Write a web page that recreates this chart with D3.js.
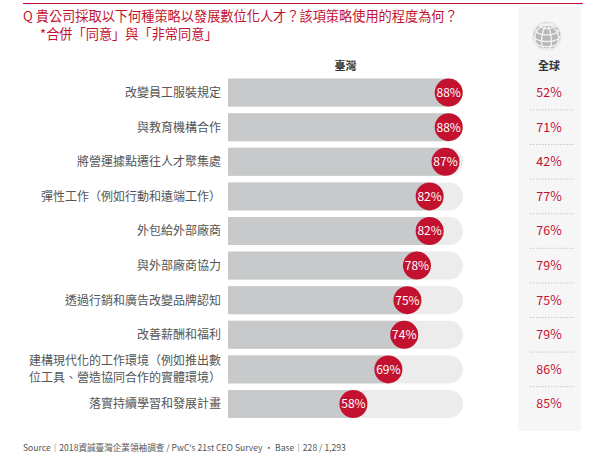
<!DOCTYPE html>
<html>
<head>
<meta charset="utf-8">
<script src="https://cdn.jsdelivr.net/npm/d3@7"></script>
<style>
  body { margin: 0; background: #fff; }
  svg { display: block; font-family: "Noto Sans CJK TC", "Noto Sans", sans-serif; }
</style>
</head>
<body>
<div id="chart"></div>
<script>
// strategy labels (one entry per row; "\n" breaks a label onto two lines)
const categories = [
  "改變員工服裝規定",
  "與教育機構合作",
  "將營運據點遷往人才聚集處",
  "彈性工作（例如行動和遠端工作）",
  "外包給外部廠商",
  "與外部廠商協力",
  "透過行銷和廣告改變品牌認知",
  "改善薪酬和福利",
  "建構現代化的工作環境（例如推出數\n位工具、營造協同合作的實體環境）",
  "落實持續學習和發展計畫"
];
const taiwanValues = [88, 88, 87, 82, 82, 78, 75, 74, 69, 58];
const globalValues = [52, 71, 42, 77, 76, 79, 75, 79, 86, 85];

const W = 600, H = 464;
const red = "#c3122f";

const svg = d3.select("#chart").append("svg")
  .attr("width", W).attr("height", H);

// scales
const x = d3.scaleLinear().domain([18.5, 92.5]).range([228, 463]);
const y = d3.scaleBand()
  .domain(categories)
  .range([75.3, 421.3])
  .paddingInner(0.19)
  .paddingOuter(0.095);
const bw = y.bandwidth();
const gap = y.step() - bw;

// top rule
svg.append("line")
  .attr("x1", 23).attr("x2", 583).attr("y1", 3.5).attr("y2", 3.5)
  .attr("stroke", red).attr("stroke-width", 1.2);

// global panel background
svg.append("rect")
  .attr("x", 518).attr("y", 7).attr("width", 63).attr("height", 424)
  .attr("rx", 3).attr("fill", "#f6f6f6");

// title
svg.append("text")
  .attr("x", 23).attr("y", 21)
  .attr("fill", red).attr("font-size", 13.2)
  .text("Q 貴公司採取以下何種策略以發展數位化人才？該項策略使用的程度為何？");
svg.append("text")
  .attr("x", 40).attr("y", 38.5)
  .attr("fill", red).attr("font-size", 13.2)
  .text("*合併「同意」與「非常同意」");

// globe icon
const globe = svg.append("g");
const proj = d3.geoOrthographic()
  .scale(13).translate([547, 36]).rotate([20, -25]).clipAngle(90);
const gpath = d3.geoPath(proj);
globe.append("circle")
  .attr("cx", 547).attr("cy", 36).attr("r", 14.5)
  .attr("fill", "#e2e2e2");
globe.append("path")
  .datum({ type: "Sphere" })
  .attr("d", gpath).attr("fill", "#b8b8b8");
globe.append("path")
  .datum(d3.geoGraticule().step([45, 30])())
  .attr("d", gpath).attr("fill", "none")
  .attr("stroke", "#f4f4f4").attr("stroke-width", 1.3);

// column headers
svg.append("text")
  .attr("x", (x.range()[0] + x.range()[1]) / 2).attr("y", 70)
  .attr("text-anchor", "middle").attr("font-size", 11).attr("font-weight", "bold")
  .attr("fill", "#333").text("臺灣");
svg.append("text")
  .attr("x", 549).attr("y", 70)
  .attr("text-anchor", "middle").attr("font-size", 11).attr("font-weight", "bold")
  .attr("fill", "#333").text("全球");

const rows = svg.append("g").selectAll("g")
  .data(categories.map((c, i) => ({ cat: c, tw: taiwanValues[i], gl: globalValues[i], i })))
  .join("g")
  .attr("transform", d => `translate(0,${y(d.cat)})`);

// background track with rounded right end
const r = bw / 2;
rows.append("path")
  .attr("fill", "#ececec")
  .attr("d", () => {
    const x0 = x.range()[0], x1 = x.range()[1];
    return `M${x0},0H${x1 - r}A${r},${r} 0 0 1 ${x1 - r},${bw}H${x0}Z`;
  });

// value bar
rows.append("rect")
  .attr("x", x.range()[0]).attr("y", 0)
  .attr("width", d => x(d.tw) - x.range()[0]).attr("height", bw)
  .attr("fill", "#c8c9ca");

// value bubble
rows.append("circle")
  .attr("cx", d => x(d.tw)).attr("cy", bw / 2).attr("r", 14)
  .attr("fill", red);
rows.append("text")
  .attr("x", d => x(d.tw)).attr("y", bw / 2).attr("dy", "0.36em")
  .attr("text-anchor", "middle").attr("fill", "#fff").attr("font-size", 12)
  .text(d => d.tw + "%");

// category labels
const lineH = 1.4;
rows.append("text")
  .attr("x", 221).attr("y", bw / 2)
  .attr("text-anchor", "end").attr("fill", "#555").attr("font-size", 12)
  .each(function (d) {
    const lines = d.cat.split("\n");
    const t = d3.select(this);
    lines.forEach((ln, k) => {
      t.append("tspan")
        .attr("x", 221)
        .attr("dy", k === 0 ? `${0.36 - (lines.length - 1) * lineH / 2}em` : `${lineH}em`)
        .text(ln);
    });
  });

// global values
rows.append("text")
  .attr("x", 549).attr("y", bw / 2).attr("dy", "0.36em")
  .attr("text-anchor", "middle").attr("fill", red).attr("font-size", 12.5)
  .text(d => d.gl + "%");

// dashed separators in the global column
rows.filter(d => d.i < categories.length - 1)
  .append("line")
  .attr("x1", 530).attr("x2", 575)
  .attr("y1", bw + gap / 2).attr("y2", bw + gap / 2)
  .attr("stroke", "#aaa").attr("stroke-width", 0.6)
  .attr("stroke-dasharray", "1.5,1.5");

// source line
svg.append("text")
  .attr("x", 23).attr("y", 451)
  .attr("fill", "#555").attr("font-size", 8.6)
  .text("Source｜2018資誠臺灣企業領袖調查 / PwC's 21st CEO Survey · Base｜228 / 1,293");
</script>
</body>
</html>
